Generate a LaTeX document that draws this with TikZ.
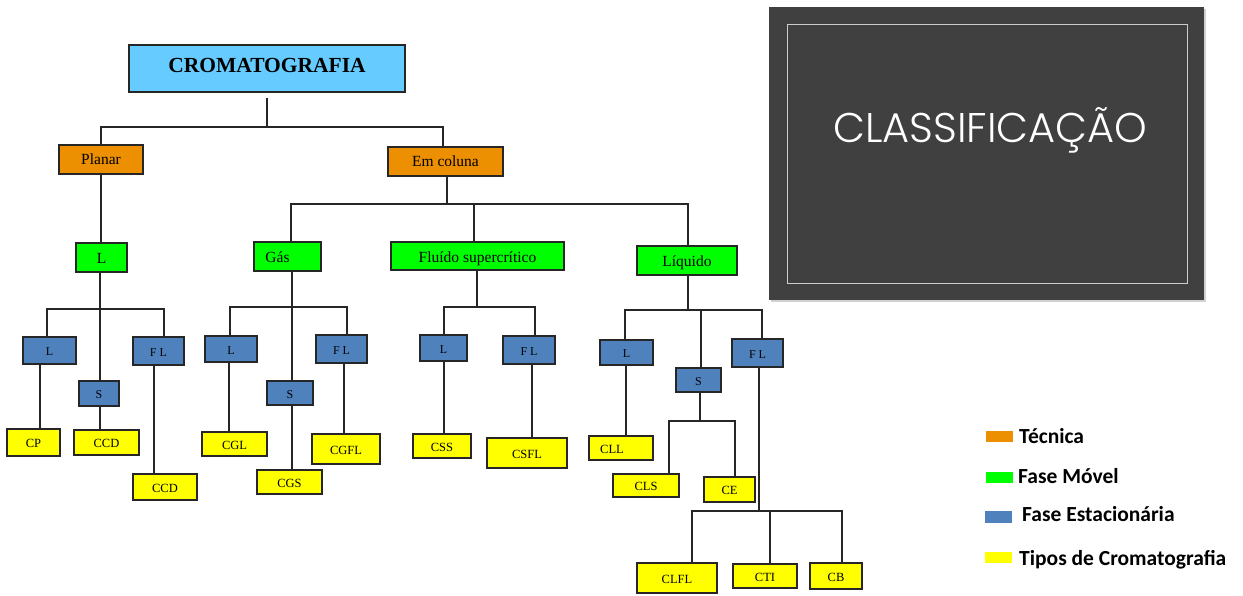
\documentclass[tikz,border=0pt]{standalone}
\usepackage{fontspec}
\setmainfont{Liberation Serif}
\newfontfamily\legfont{Carlito}
\IfFontExistsTF{Poppins Light}{\newfontfamily\titlefont{Poppins Light}}{\newfontfamily\titlefont{Poppins}}
\definecolor{cblue}{HTML}{66CCFF}
\definecolor{corange}{HTML}{EC8F00}
\definecolor{cgreen}{HTML}{00FF00}
\definecolor{cstat}{HTML}{4F81BD}
\definecolor{cyel}{HTML}{FFFF00}
\definecolor{cpanel}{HTML}{404040}
\definecolor{cline}{HTML}{262626}
\tikzset{
  bx/.style={draw=cline, line width=1.3pt, inner sep=0pt, text depth=0pt},
  topbox/.style={bx, fill=cblue, text height=8.2pt, font=\bfseries\fontsize{21.5}{25}\selectfont},
  tecbox/.style={bx, fill=corange, text height=11pt, font=\fontsize{15.5}{18}\selectfont},
  movbox/.style={bx, fill=cgreen, text height=12pt, font=\fontsize{15.5}{18}\selectfont},
  estbox/.style={bx, fill=cstat, text height=10.5pt, font=\fontsize{12}{14}\selectfont},
  tipbox/.style={bx, fill=cyel, text height=10pt, font=\fontsize{12.5}{14}\selectfont},
  link/.style={draw=cline, line width=1.3pt},
  legtext/.style={anchor=base west, inner sep=0pt, font=\legfont\bfseries\fontsize{21.5}{25}\selectfont},
}
\newcommand\vlinkx[3]{\draw[link] ([xshift=#2]#1.south) coordinate (vtmp) -- (vtmp |- #3.north);}
\begin{document}
\begin{tikzpicture}[x=1pt,y=-1pt]
\useasboundingbox (0,0) rectangle (1243,596);
% panel
\fill[black!18] (771,9) rectangle (1206,302);
\node[fill=cpanel, inner sep=0pt, minimum width=435pt, minimum height=293pt] (panel) at (986.5,153.5) {};
\node[draw=black!20, line width=0.8pt, inner sep=0pt, minimum width=400pt, minimum height=259pt] (frame) at (987,153.5) {};
\node[text=white, anchor=base, inner sep=0pt, font=\titlefont\fontsize{41.5}{48}\selectfont] (title) at (990.5,143) {CLASSIFICAÇÃO};
% level nodes
\node[topbox, minimum width=276pt, minimum height=47pt] (crom) at (267,68.5) {CROMATOGRAFIA};
\node[tecbox, minimum width=84pt, minimum height=29pt] (planar) at (101,159.5) {Planar};
\node[tecbox, minimum width=115pt, minimum height=29pt] (emcol) at (445.5,161.5) {Em coluna};
\node[movbox, minimum width=51pt, minimum height=29pt] (gL) at (101.5,257.5) {L};
\node[movbox, minimum width=67pt, minimum height=29pt] (gas) at (287.5,256.5) {Gás\kern20pt};
\node[movbox, minimum width=173pt, minimum height=28pt] (fluido) at (477.5,256) {Fluído supercrítico};
\node[movbox, minimum width=100pt, minimum height=29pt] (liquido) at (687,260.5) {Líquido};
% stationary
\node[estbox, minimum width=53pt, minimum height=27pt] (bL1) at (49.5,350.5) {L};
\node[estbox, minimum width=40pt, minimum height=25pt] (bS1) at (99,393.5) {S};
\node[estbox, minimum width=51pt, minimum height=28pt] (bFL1) at (158.5,351) {F L};
\node[estbox, minimum width=52pt, minimum height=26pt] (bL2) at (231,349) {L};
\node[estbox, minimum width=46pt, minimum height=24pt] (bS2) at (290,393) {S};
\node[estbox, minimum width=51pt, minimum height=28pt] (bFL2) at (341.5,349) {F L};
\node[estbox, minimum width=47pt, minimum height=26pt] (bL3) at (443.5,348) {L};
\node[estbox, minimum width=52pt, minimum height=28pt] (bFL3) at (529,350) {F L};
\node[estbox, minimum width=53pt, minimum height=25pt] (bL4) at (626.5,352.5) {L};
\node[estbox, minimum width=45pt, minimum height=24pt] (bS4) at (698.5,380) {S};
\node[estbox, minimum width=51pt, minimum height=28pt] (bFL4) at (757.5,353) {F L};
% types
\node[tipbox, minimum width=53pt, minimum height=27pt] (cp) at (33.5,442.5) {CP};
\node[tipbox, minimum width=65pt, minimum height=25pt] (ccda) at (106.5,442.5) {CCD};
\node[tipbox, minimum width=64pt, minimum height=26pt] (ccdb) at (165,487) {CCD};
\node[tipbox, minimum width=65pt, minimum height=24pt] (cgl) at (234.5,444) {CGL};
\node[tipbox, minimum width=65pt, minimum height=24pt] (cgs) at (289.5,482) {CGS};
\node[tipbox, minimum width=68pt, minimum height=30pt] (cgfl) at (346,449) {CGFL};
\node[tipbox, minimum width=58pt, minimum height=24pt] (css) at (442,446) {CSS};
\node[tipbox, minimum width=80pt, minimum height=30pt] (csfl) at (527,453) {CSFL};
\node[tipbox, minimum width=64pt, minimum height=24pt] (cll) at (621,448) {CLL\kern18pt};
\node[tipbox, minimum width=66pt, minimum height=23pt] (cls) at (646,485.5) {CLS};
\node[tipbox, minimum width=51pt, minimum height=25pt] (ce) at (729.5,489.5) {CE};
\node[tipbox, minimum width=80pt, minimum height=30pt] (clfl) at (677,578) {CLFL};
\node[tipbox, minimum width=64pt, minimum height=24pt] (cti) at (765,576) {CTI};
\node[tipbox, minimum width=52pt, minimum height=26pt] (cb) at (836,576) {CB};
% junctions
\coordinate (j0) at (267,127);
\coordinate (jplan) at (100,309);
\coordinate (jcol) at (447,204);
\coordinate (jgas) at (292,307);
\coordinate (jflu) at (477,307);
\coordinate (jliq) at (688,310);
\coordinate (js4) at (700,421);
\coordinate (jfl4) at (759,511);
% connectors
\draw[link, shorten <=5pt] (crom.south) -- (j0);
\draw[link] (planar.north) |- (j0) -| ([xshift=-2.5pt]emcol.north);
\vlinkx{planar}{0pt}{gL}
\draw[link] ([xshift=-1.5pt]gL.south) -- ([xshift=1pt]bS1.north);
\draw[link] ([xshift=-2.5pt]bL1.north) |- (jplan) -| ([xshift=5.5pt]bFL1.north);
\vlinkx{bL1}{-9.5pt}{cp}
\vlinkx{bS1}{1pt}{ccda}
\vlinkx{bFL1}{-4.5pt}{ccdb}
\draw[link] ([xshift=1.5pt]emcol.south) -- (jcol);
\draw[link] ([xshift=3.5pt]gas.north) |- (jcol) -| ([xshift=1pt]liquido.north);
\draw[link] ([xshift=-3.5pt]fluido.north) -- ([xshift=-3.5pt]fluido.north |- jcol);
\draw[link] ([xshift=4.5pt]gas.south) -- ([xshift=2pt]bS2.north);
\draw[link] ([xshift=-1pt]bL2.north) |- (jgas) -| ([xshift=5.5pt]bFL2.north);
\vlinkx{bL2}{-2pt}{cgl}
\vlinkx{bS2}{2pt}{cgs}
\vlinkx{bFL2}{2.5pt}{cgfl}
\draw[link] ([xshift=-0.5pt]fluido.south) -- (jflu);
\draw[link] ([xshift=0.5pt]bL3.north) |- (jflu) -| ([xshift=6pt]bFL3.north);
\vlinkx{bL3}{0.5pt}{css}
\vlinkx{bFL3}{3pt}{csfl}
\draw[link] ([xshift=1pt]liquido.south) -- (jliq);
\draw[link] ([xshift=-1.5pt]bL4.north) |- (jliq) -| ([xshift=4.5pt]bFL4.north);
\draw[link] ([xshift=2.5pt]bS4.north) -- ([xshift=2.5pt]bS4.north |- jliq);
\vlinkx{bL4}{-0.5pt}{cll}
\draw[link] ([xshift=1.5pt]bS4.south) -- (js4);
\draw[link] ([xshift=23pt]cls.north) |- (js4) -| ([xshift=5.5pt]ce.north);
\draw[link] ([xshift=1.5pt]bFL4.south) -- (jfl4);
\draw[link] ([xshift=15pt]clfl.north) |- (jfl4) -| ([xshift=6pt]cb.north);
\draw[link] ([xshift=5pt]cti.north) -- ([xshift=5pt]cti.north |- jfl4);
% legend
\fill[corange] (986,431) rectangle (1013,442);
\fill[cgreen] (986,472) rectangle (1013,483);
\fill[cstat] (985,511) rectangle (1012,523);
\fill[cyel] (985,552) rectangle (1012,563);
\node[legtext] (l1) at (1019,443) {Técnica};
\node[legtext] (l2) at (1018,483) {Fase Móvel};
\node[legtext] (l3) at (1022,521) {Fase Estacionária};
\node[legtext] (l4) at (1019,565) {Tipos de Cromatografia};
\end{tikzpicture}
\end{document}
